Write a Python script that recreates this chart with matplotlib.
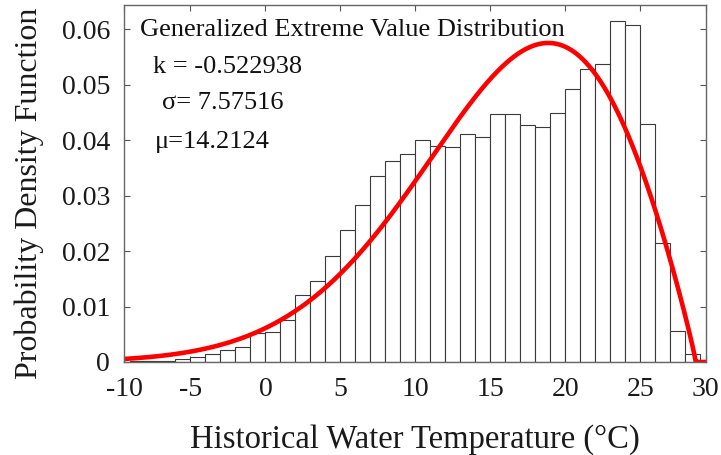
import numpy as np
import matplotlib
matplotlib.use("Agg")
import matplotlib.pyplot as plt

plt.rcParams["font.family"] = ["Liberation Serif", "DejaVu Serif"]

# Histogram of water temperature, 1 degree bins (left edges) and densities
bin_left = [-9, -8, -7, -6, -5, -4, -3, -2, -1, 0, 1, 2, 3, 4, 5, 6, 7, 8, 9,
            10, 11, 12, 13, 14, 15, 16, 17, 18, 19, 20, 21, 22, 23, 24, 25,
            26, 27, 28]
density = [0.0001, 0.0001, 0.0002, 0.0005, 0.0009, 0.0015, 0.0022, 0.0027,
           0.0053, 0.0055, 0.0075, 0.0120, 0.0146, 0.0191, 0.0239, 0.0283,
           0.0336, 0.0363, 0.0375, 0.0400, 0.0389, 0.0387, 0.0412, 0.0406,
           0.0448, 0.0448, 0.0427, 0.0424, 0.0449, 0.0492, 0.0529, 0.0537,
           0.0615, 0.0608, 0.0430, 0.0214, 0.0056, 0.0015]
bin_width = 1.0

# Fitted GEV parameters
k = -0.522938
sigma = 7.57516
mu = 14.2124

x_min, x_max = -9.43, 29.37
x_ticks = [x_min, -5, 0, 5, 10, 15, 20, 25, x_max]
x_ticklabels = ["-10", "-5", "0", "5", "10", "15", "20", "25", "30"]
y_ticks = [0, 0.01, 0.02, 0.03, 0.04, 0.05, 0.06]
y_ticklabels = ["0", "0.01", "0.02", "0.03", "0.04", "0.05", "0.06"]


def gev_pdf(x, k, sigma, mu):
    z = (x - mu) / sigma
    t = 1 + k * z
    pdf = np.zeros_like(x)
    ok = t > 0
    pdf[ok] = (1 / sigma) * np.exp(-t[ok] ** (-1 / k)) * t[ok] ** (-1 - 1 / k)
    return pdf


fig = plt.figure(figsize=(7.21, 4.55), dpi=100)
ax = fig.add_axes([0.172, 0.2044, 0.807, 0.7846])

ax.bar(bin_left, density, width=bin_width, align="edge", color="white",
       edgecolor="#3a3a3a", linewidth=0.8, zorder=2)

xs = np.linspace(x_min, x_max, 800)
ax.plot(xs, gev_pdf(xs, k, sigma, mu), color="#ff0000", lw=3.3, zorder=3,
        solid_capstyle="round")

ax.set_xlim(x_min, x_max)
ax.set_ylim(0, 0.0644)
ax.set_xticks(x_ticks)
ax.set_xticklabels(x_ticklabels)
ax.set_yticks(y_ticks)
ax.set_yticklabels(y_ticklabels)
ax.tick_params(direction="in", top=True, right=True, length=4, width=0.8,
               color="#555555", labelsize=20, labelcolor="#1a1a1a")
ax.tick_params(axis="x", pad=11)
ax.tick_params(axis="y", pad=10)
for s in ax.spines.values():
    s.set_color("#666666")
    s.set_linewidth(1.0)
    s.set_zorder(4)

ax.set_xlabel("Historical Water Temperature (\u00b0C)", fontsize=23.5,
              color="#1a1a1a", labelpad=16)
ax.set_ylabel("Probability Density Function", fontsize=23, color="#1a1a1a")
ax.yaxis.set_label_coords(-0.137, 0.472)

ax.text(0.0275, 0.93, "Generalized Extreme Value Distribution",
        transform=ax.transAxes, fontsize=19, va="center", ha="left",
        color="#111111", zorder=5)
ax.text(0.050, 0.826, "k = -0.522938", transform=ax.transAxes, fontsize=19,
        va="center", ha="left", color="#111111", zorder=5)
ax.text(0.065, 0.725, "\u03c3= 7.57516", transform=ax.transAxes,
        fontsize=19, va="center", ha="left", color="#111111", zorder=5)
ax.text(0.053, 0.617, "\u03bc=14.2124", transform=ax.transAxes,
        fontsize=19, va="center", ha="left", color="#111111", zorder=5)

fig.savefig("out.png", dpi=100)
